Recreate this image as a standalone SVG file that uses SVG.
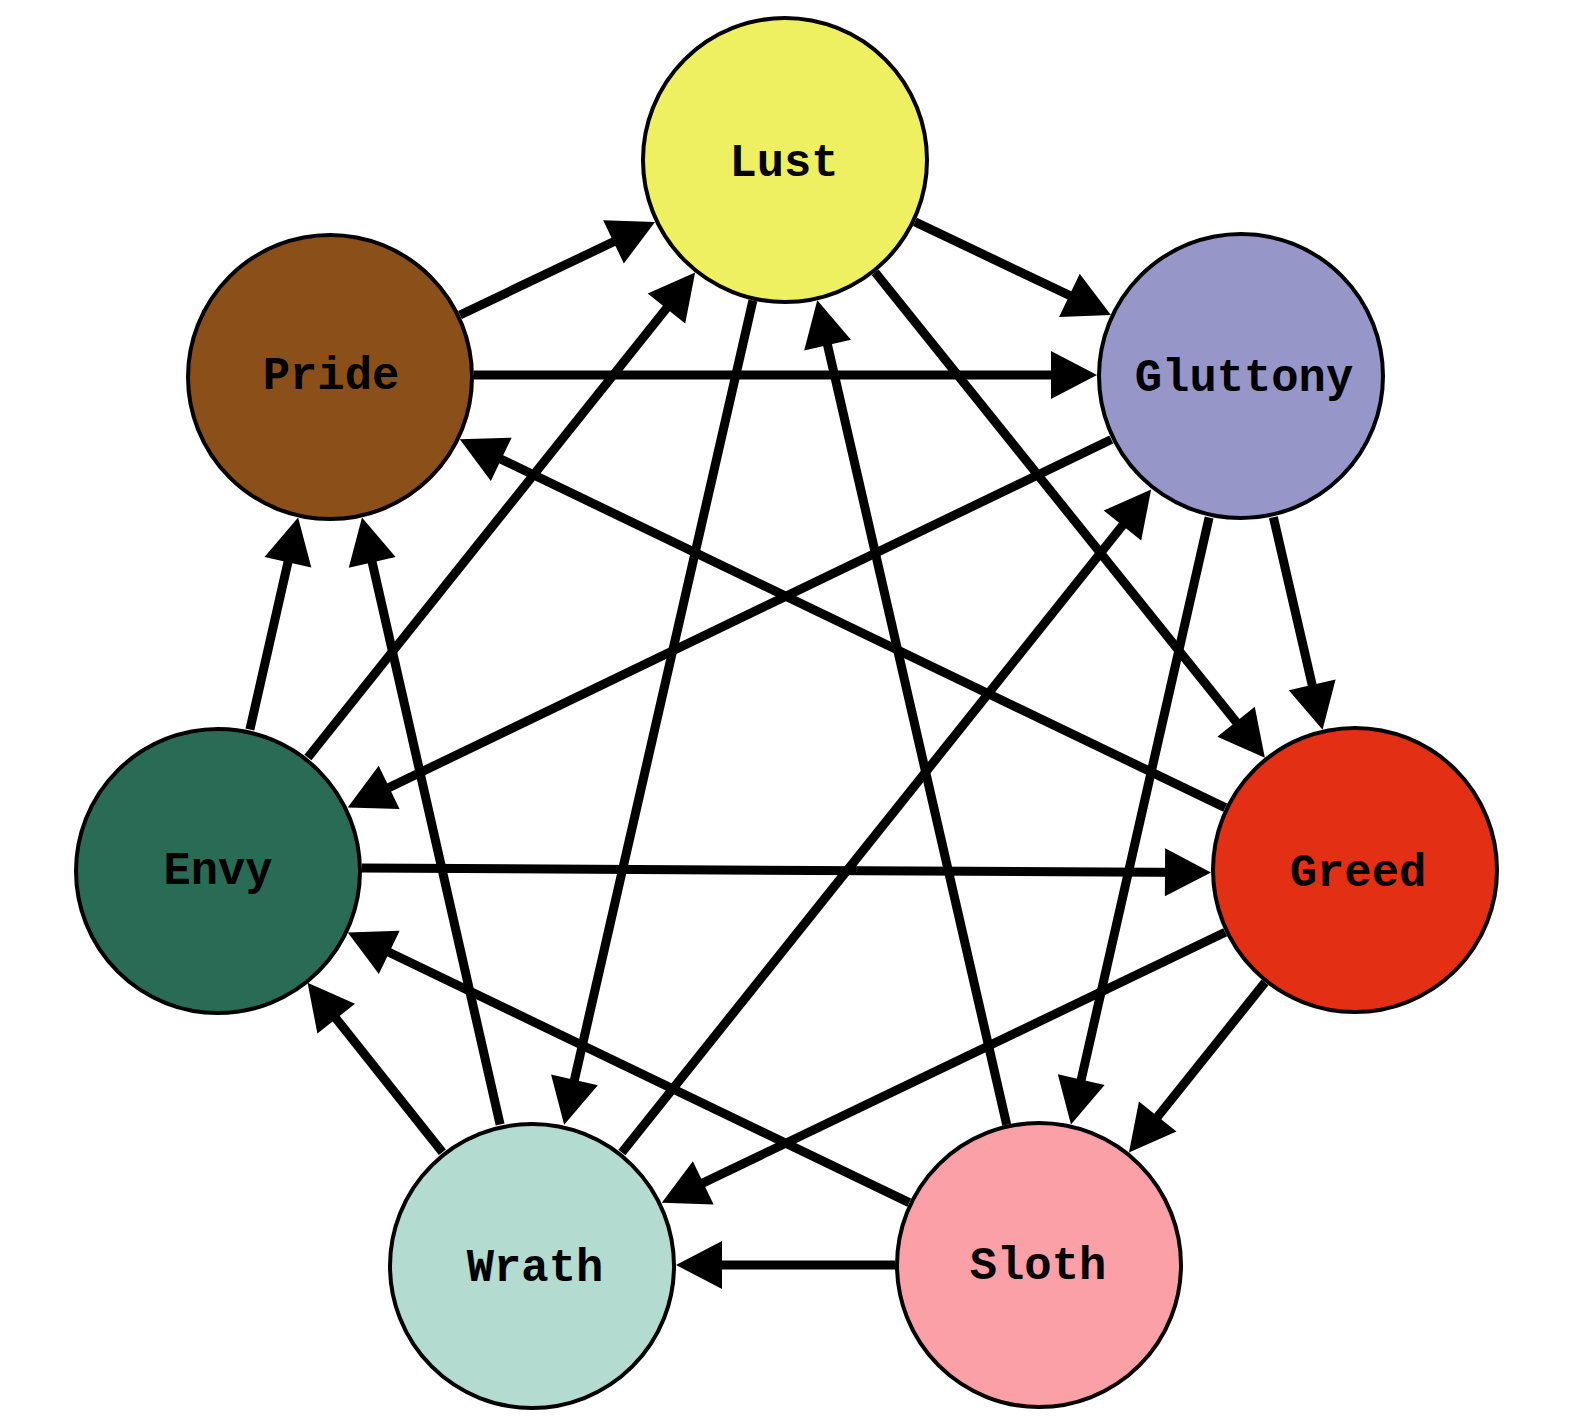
<svg xmlns="http://www.w3.org/2000/svg" width="1588" height="1420" viewBox="0 0 1588 1420">
<defs>
<marker id="ah" markerUnits="userSpaceOnUse" markerWidth="46" markerHeight="48" refX="36" refY="24" orient="auto" overflow="visible">
<path d="M0,0 L46,24 L0,48 z" fill="#000"/>
</marker>
<style>
.edge{stroke:#000;stroke-width:9;fill:none;marker-end:url(#ah)}
.node circle{stroke:#000;stroke-width:4}
.node text{font-family:"Liberation Mono","Courier New",monospace;font-weight:bold;font-size:45.5px;fill:#000;text-anchor:middle}
</style>
</defs>
<rect width="1588" height="1420" fill="#fff"/>
<g id="connectors">
<line class="edge" x1="915.0" y1="221.9" x2="1101.9" y2="310.8"/>
<line class="edge" x1="875.1" y1="272.3" x2="1258.6" y2="749.9"/>
<line class="edge" x1="752.9" y1="300.4" x2="566.4" y2="1114.9"/>
<line class="edge" x1="1273.4" y1="517.3" x2="1320.3" y2="720.0"/>
<line class="edge" x1="1209.1" y1="517.4" x2="1073.2" y2="1114.8"/>
<line class="edge" x1="1111.3" y1="439.5" x2="356.7" y2="803.1"/>
<line class="edge" x1="1265.0" y1="982.4" x2="1135.2" y2="1144.7"/>
<line class="edge" x1="1225.2" y1="932.3" x2="670.8" y2="1198.4"/>
<line class="edge" x1="1225.2" y1="807.6" x2="468.8" y2="443.7"/>
<line class="edge" x1="895" y1="1265" x2="686" y2="1265"/>
<line class="edge" x1="909.2" y1="1202.6" x2="356.8" y2="936.8"/>
<line class="edge" x1="1006.7" y1="1124.7" x2="819.5" y2="310.1"/>
<line class="edge" x1="442.4" y1="1152.3" x2="313.8" y2="990.5"/>
<line class="edge" x1="500.1" y1="1124.6" x2="364.2" y2="527.2"/>
<line class="edge" x1="621.9" y1="1152.5" x2="1144.9" y2="497.4"/>
<line class="edge" x1="249.9" y1="729.6" x2="295.9" y2="527.2"/>
<line class="edge" x1="307.9" y1="757.5" x2="688.9" y2="280.3"/>
<line class="edge" x1="362" y1="868" x2="1201" y2="872.5"/>
<line class="edge" x1="460.0" y1="315.0" x2="646.0" y2="226.3"/>
<line class="edge" x1="474" y1="375" x2="1087" y2="375"/>
</g>
<g id="lust" class="node"><circle cx="785" cy="160" r="142" fill="#efef62"/><text x="784" y="176">Lust</text></g>
<g id="gluttony" class="node"><circle cx="1241" cy="376" r="142" fill="#9696c9"/><text x="1244" y="391">Gluttony</text></g>
<g id="greed" class="node"><circle cx="1355" cy="870" r="142" fill="#e32f13"/><text x="1358" y="886">Greed</text></g>
<g id="sloth" class="node"><circle cx="1039" cy="1265" r="142" fill="#fca0a7"/><text x="1038" y="1279">Sloth</text></g>
<g id="wrath" class="node"><circle cx="532" cy="1266" r="142" fill="#b4dbcf"/><text x="535" y="1281">Wrath</text></g>
<g id="envy" class="node"><circle cx="218" cy="871" r="142" fill="#2a6b56"/><text x="218" y="884">Envy</text></g>
<g id="pride" class="node"><circle cx="330" cy="377" r="142" fill="#8b4f19"/><text x="331" y="389">Pride</text></g>
</svg>
